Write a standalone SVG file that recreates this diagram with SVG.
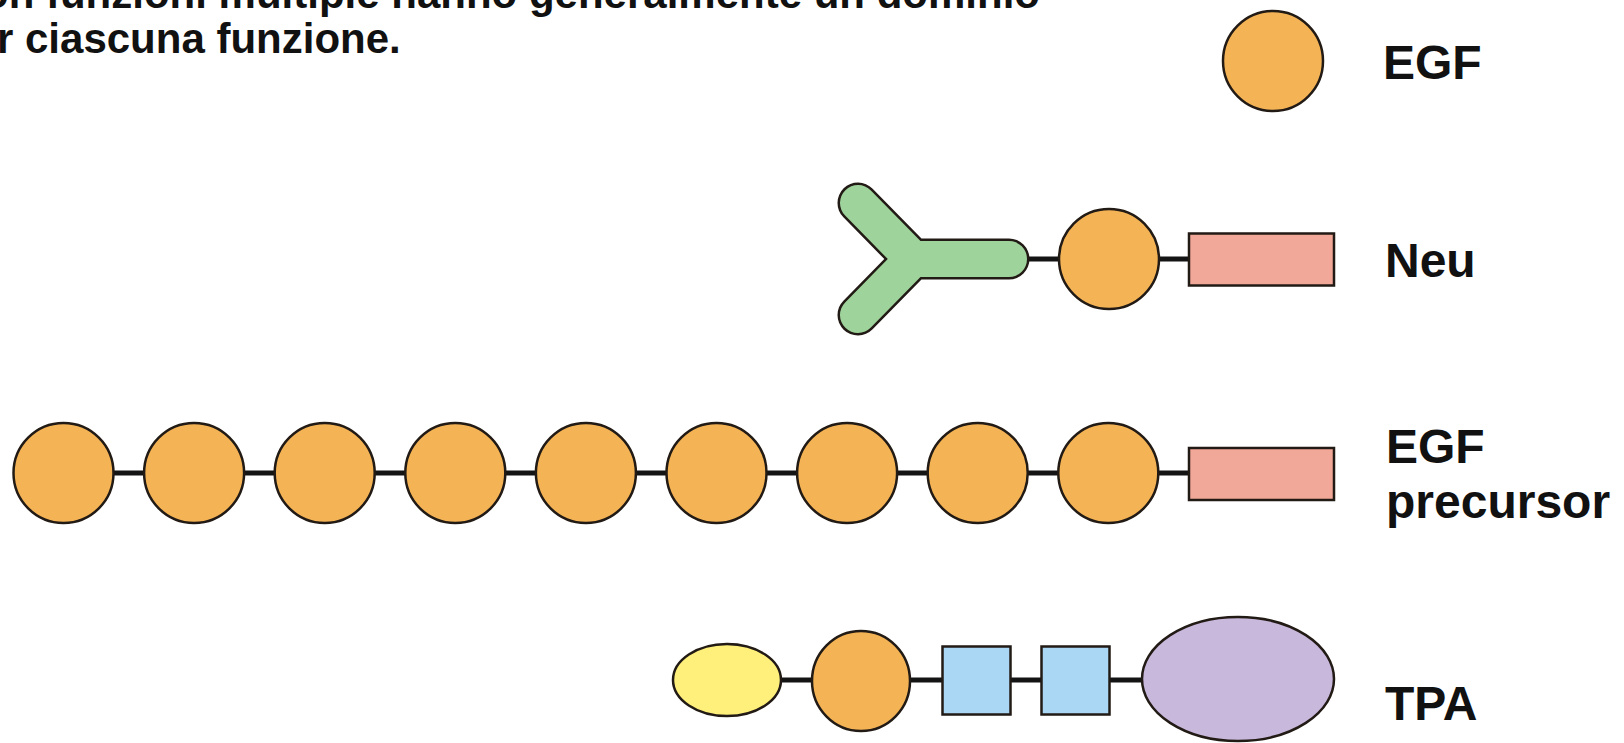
<svg xmlns="http://www.w3.org/2000/svg" width="1624" height="743" viewBox="0 0 1624 743">
<style>
.t{font-family:"Liberation Sans",Arial,sans-serif;font-weight:bold;fill:#111}
.head{font-size:42px}
.lbl{font-size:48px}
.o{stroke:#221a14;stroke-width:2.5}
.egf{fill:#F4B456}
.pink{fill:#F2A898}
.blue{fill:#AAD7F4}
.yel{fill:#FFF07C}
.pur{fill:#C8B8DC}
.link{stroke:#141414;stroke-width:5;fill:none}
</style>
<rect width="1624" height="743" fill="#fff"/>
<g id="title">
<text class="t head" x="-17" y="8">on funzioni multiple hanno generalmente un dominio</text>
<text class="t head" x="-3" y="53">r ciascuna funzione.</text>
</g>
<g id="connectors">
<line class="link" x1="1010" y1="259" x2="1188" y2="259"/>
<line class="link" x1="63" y1="473" x2="1188" y2="473"/>
<line class="link" x1="727" y1="680" x2="1238" y2="680"/>
</g>
<g id="egf-single">
<circle class="o egf" cx="1273" cy="61" r="50"/>
</g>
<g id="neu">
<path d="M858,203 L913,259 L1009,259 M858,315 L913,259" fill="none" stroke="#221a14" stroke-width="41" stroke-linecap="round" stroke-linejoin="round"/>
<path d="M858,203 L913,259 L1009,259 M858,315 L913,259" fill="none" stroke="#9FD39C" stroke-width="36" stroke-linecap="round" stroke-linejoin="round"/>
<circle class="o egf" cx="1109" cy="259" r="50"/>
<rect class="o pink" x="1189" y="233.5" width="145" height="52"/>
</g>
<g id="precursor">
<circle class="o egf" cx="63.5" cy="473" r="50"/>
<circle class="o egf" cx="194.1" cy="473" r="50"/>
<circle class="o egf" cx="324.7" cy="473" r="50"/>
<circle class="o egf" cx="455.3" cy="473" r="50"/>
<circle class="o egf" cx="585.9" cy="473" r="50"/>
<circle class="o egf" cx="716.5" cy="473" r="50"/>
<circle class="o egf" cx="847.1" cy="473" r="50"/>
<circle class="o egf" cx="977.7" cy="473" r="50"/>
<circle class="o egf" cx="1108.3" cy="473" r="50"/>
<rect class="o pink" x="1189" y="448" width="145" height="52"/>
</g>
<g id="tpa">
<ellipse class="o yel" cx="727" cy="680" rx="54" ry="36"/>
<ellipse class="o egf" cx="861" cy="681" rx="49" ry="50"/>
<rect class="o blue" x="942.5" y="646.5" width="68" height="68"/>
<rect class="o blue" x="1041.5" y="646.5" width="68" height="68"/>
<ellipse class="o pur" cx="1238" cy="679" rx="96" ry="62"/>
</g>
<g id="labels">
<text class="t lbl" x="1383" y="79">EGF</text>
<text class="t lbl" x="1385" y="277">Neu</text>
<text class="t lbl" x="1386" y="463">EGF</text>
<text class="t lbl" x="1386" y="518">precursor</text>
<text class="t lbl" x="1385" y="720">TPA</text>
</g>
</svg>
